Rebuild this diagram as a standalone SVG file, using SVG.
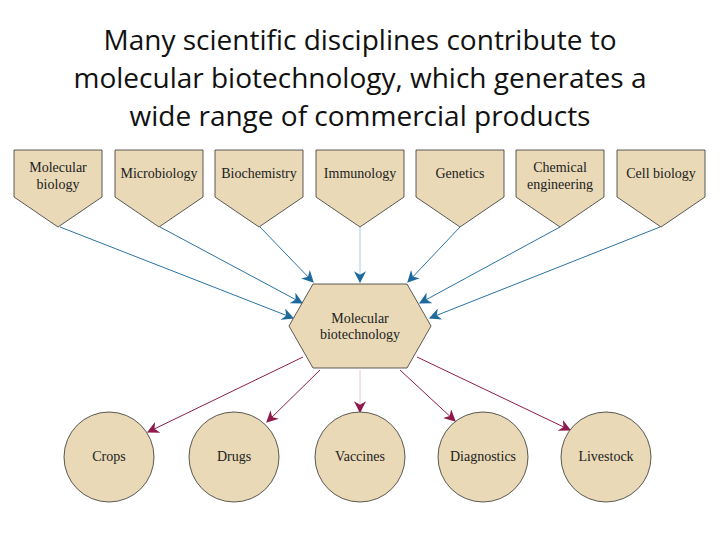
<svg xmlns="http://www.w3.org/2000/svg" width="720" height="540" viewBox="0 0 720 540">
<style>
.title{font-family:"Open Sans","Liberation Sans",sans-serif;font-size:28px;fill:#111;text-anchor:middle}
.node{fill:#E9D9B6;stroke:#333;stroke-width:0.8}
.lbl{font-family:"Liberation Serif","DejaVu Serif",serif;font-size:14px;fill:#222;text-anchor:middle;dominant-baseline:central}
.in{stroke:#2A73A3;stroke-width:1;fill:none;marker-end:url(#ab)}
.out{stroke:#8E1B4C;stroke-width:1;fill:none;marker-end:url(#am)}
</style>
<defs>
<marker id="ab" viewBox="0 0 10 10" refX="9" refY="5" markerWidth="12" markerHeight="12" markerUnits="userSpaceOnUse" orient="auto"><path d="M0,0 L10,5 L0,10 L3,5 z" fill="#1F6A9C"/></marker>
<marker id="am" viewBox="0 0 10 10" refX="9" refY="5" markerWidth="12" markerHeight="12" markerUnits="userSpaceOnUse" orient="auto"><path d="M0,0 L10,5 L0,10 L3,5 z" fill="#8E1B4C"/></marker>
</defs>
<rect width="720" height="540" fill="#fff"/>
<text class="title" x="360" y="50">Many scientific disciplines contribute to</text>
<text class="title" x="360" y="88">molecular biotechnology, which generates a</text>
<text class="title" x="360" y="126">wide range of commercial products</text>

<g id="connectors">
<line class="in" x1="60" y1="227" x2="293" y2="318"/>
<line class="in" x1="160" y1="227" x2="302" y2="303"/>
<line class="in" x1="260" y1="227" x2="313" y2="282"/>
<line class="in" x1="360" y1="227" x2="360" y2="282" style="stroke:#A9CCE0"/>
<line class="in" x1="460" y1="227" x2="408" y2="282"/>
<line class="in" x1="560" y1="227" x2="420" y2="303"/>
<line class="in" x1="660" y1="227" x2="430" y2="318"/>
<line class="out" x1="303" y1="357" x2="148" y2="432"/>
<line class="out" x1="320" y1="370" x2="267" y2="422"/>
<line class="out" x1="360" y1="370" x2="360" y2="412" style="stroke:#E2C6D2"/>
<line class="out" x1="400" y1="370" x2="455" y2="421"/>
<line class="out" x1="417" y1="357" x2="570" y2="430"/>
</g>

<g id="n-molbio"><path class="node" d="M14,150 H102 V197 L58,227 L14,197 Z"/><text class="lbl" x="58" y="167">Molecular</text><text class="lbl" x="58" y="184">biology</text></g>
<g id="n-microbio"><path class="node" d="M115,150 H203 V197 L159,227 L115,197 Z"/><text class="lbl" x="159" y="173">Microbiology</text></g>
<g id="n-biochem"><path class="node" d="M215,150 H303 V197 L259,227 L215,197 Z"/><text class="lbl" x="259" y="173">Biochemistry</text></g>
<g id="n-immuno"><path class="node" d="M316,150 H404 V197 L360,227 L316,197 Z"/><text class="lbl" x="360" y="173">Immunology</text></g>
<g id="n-genetics"><path class="node" d="M416,150 H504 V197 L460,227 L416,197 Z"/><text class="lbl" x="460" y="173">Genetics</text></g>
<g id="n-chemeng"><path class="node" d="M516,150 H604 V197 L560,227 L516,197 Z"/><text class="lbl" x="560" y="167">Chemical</text><text class="lbl" x="560" y="184">engineering</text></g>
<g id="n-cellbio"><path class="node" d="M617,150 H705 V197 L661,227 L617,197 Z"/><text class="lbl" x="661" y="173">Cell biology</text></g>

<g id="n-molbiotech"><path class="node" d="M313,284 H407 L431,326 L407,368 H313 L289,326 Z"/><text class="lbl" x="360" y="318">Molecular</text><text class="lbl" x="360" y="334">biotechnology</text></g>

<g id="n-crops"><circle class="node" cx="109" cy="457" r="45"/><text class="lbl" x="109" y="456">Crops</text></g>
<g id="n-drugs"><circle class="node" cx="234" cy="457" r="45"/><text class="lbl" x="234" y="456">Drugs</text></g>
<g id="n-vaccines"><circle class="node" cx="360" cy="457" r="45"/><text class="lbl" x="360" y="456">Vaccines</text></g>
<g id="n-diagnostics"><circle class="node" cx="483" cy="457" r="45"/><text class="lbl" x="483" y="456">Diagnostics</text></g>
<g id="n-livestock"><circle class="node" cx="606" cy="457" r="45"/><text class="lbl" x="606" y="456">Livestock</text></g>
</svg>
